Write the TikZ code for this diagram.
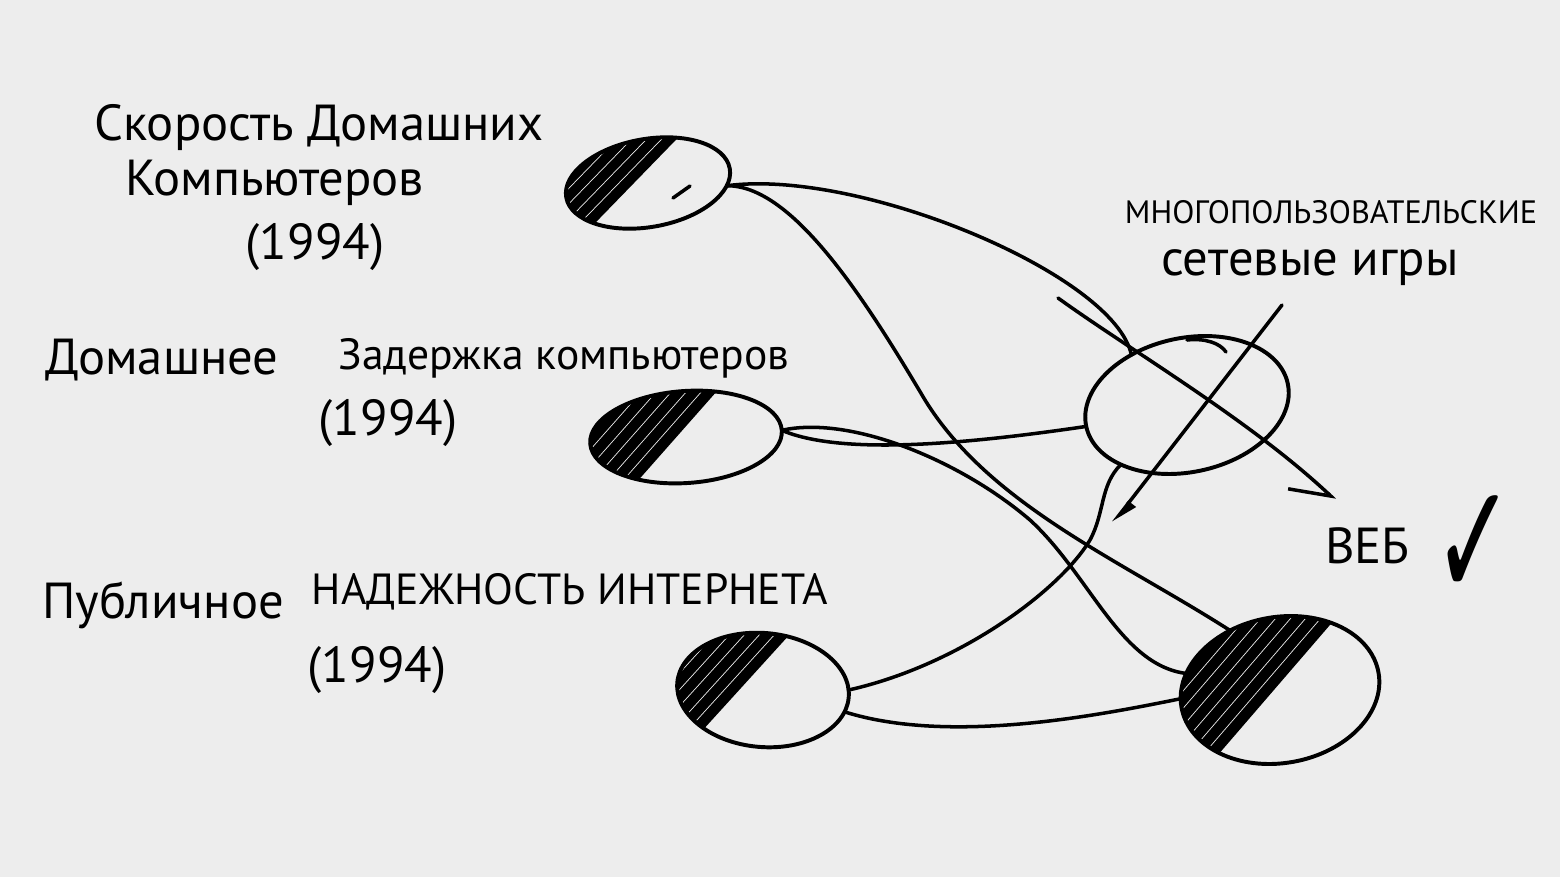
\documentclass[tikz,border=0pt]{standalone}
\usepackage{fontspec}
\setmainfont{PT Sans}
\newfontfamily\symfont{DejaVu Sans}
\usetikzlibrary{shapes.geometric,arrows.meta}
\definecolor{paper}{RGB}{237,237,237}
\tikzset{
  blob/.style={draw, ellipse, line width=2.8pt, inner sep=0pt, outer sep=0pt},
  link/.style={line width=2.5pt, line cap=round},
  big/.style={font=\fontsize{36}{40}\selectfont, inner sep=0pt},
  mid/.style={font=\fontsize{31}{34}\selectfont, inner sep=0pt},
  sml/.style={font=\fontsize{23}{26}\selectfont, inner sep=0pt},
}
\begin{document}
\begin{tikzpicture}[x=0.025cm, y=-0.025cm, line join=round, line cap=round]
	\useasboundingbox (0,0) rectangle (1560,877);
	\fill[paper] (0,0) rectangle (1560,877);
	% shaded halves
	\foreach \cx/\cy/\rx/\ry/\rt/\ax/\ay/\bx/\by in {648/183/83/44/10/702/113/566/253, 686/437/96/46/4/755/348/597/527, 763/690/86/57/-5/821/600/671/765, 1280/690/100/73/10/1373/575/1192/785}{
		\begin{scope}
			\clip[rotate around={\rt:(\cx,\cy)}] (\cx,\cy) ellipse ({\rx} and {\ry});
			\fill (\ax,\ay) -- (\bx,\by) -- (\bx-200,\by) -- (\ax-200,\ay) -- cycle;
			\foreach \k in {1,...,7} \draw[paper, line width=0.5pt] (\ax-15*\k,\ay) -- (\bx-15*\k,\by);
		\end{scope}}
	% blobs
	\node[blob, minimum width=4.15cm, minimum height=2.2cm, rotate=10] (spd) at (648,183) {};
	\node[blob, minimum width=4.8cm, minimum height=2.3cm, rotate=4] (lat) at (686,437) {};
	\node[blob, minimum width=4.3cm, minimum height=2.85cm, rotate=-5] (rel) at (763,690) {};
	\node[blob, minimum width=5.15cm, minimum height=3.35cm, rotate=12] (mpg) at (1187,405) {};
	\node[blob, minimum width=5cm, minimum height=3.65cm, rotate=10] (web) at (1280,690) {};
	\draw[link] (673,198) -- (690,186);
	\draw[link] (1187,340) .. controls (1205,338) and (1220,343) .. (1226,352);
	% labels
	\node[big] (spdA) at (319,128) {Скорость Домашних};
	\node[big] (spdB) at (275,183) {Компьютеров};
	\node[big] (spdC) at (315,247) {(1994)};
	\node[big] (latA) at (162,360) {Домашнее};
	\node[mid] (latB) at (564,358) {Задержка компьютеров};
	\node[big] (latC) at (388,423) {(1994)};
	\node[big] (relA) at (163,605) {Публичное};
	\node[mid] (relB) at (570,592) {НАДЕЖНОСТЬ ИНТЕРНЕТА};
	\node[big] (relC) at (377,670) {(1994)};
	\node[sml] (mpgA) at (1331,212) {МНОГОПОЛЬЗОВАТЕЛЬСКИЕ};
	\node[big] (mpgB) at (1310,268) {сетевые игры};
	\node[big, anchor=base west] (webL) at (1325,563) {ВЕБ\hspace{0.6cm}{\symfont\fontsize{115}{115}\selectfont\raisebox{-0.85cm}{\scalebox{0.6}[1]{✓}}}};
	% links
	\draw[link] (spd.-12) .. controls (860,168) and (1115,275) .. (mpg.126);
	\draw[link] (spd.-12) .. controls (790,185) and (860,290) .. (925,400) .. controls (990,505) and (1120,560) .. (web.120);
	\draw[link] (lat.east) .. controls (840,455) and (960,445) .. (mpg.west);
	\draw[link] (lat.east) .. controls (850,415) and (960,460) .. (1030,520) .. controls (1090,575) and (1120,665) .. (web.160);
	\draw[link] (rel.5) .. controls (960,665) and (1060,590) .. (1090,540) .. controls (1105,512) and (1100,485) .. (mpg.-150);
	\draw[link] (rel.-10) .. controls (950,745) and (1100,715) .. (web.175);
	% arrows
	\coordinate (gstart) at (1058,298);
	\coordinate (webtip) at (1335,500);
	\coordinate (gtop) at (1282,305);
	\coordinate (gtip) at (1113,523);
	\draw[link, -{Straight Barb[harpoon, swap, length=0.9cm, width=1.2cm]}] (gstart) .. controls (1130,350) and (1250,420) .. (webtip);
	\draw[link, -{Triangle[harpoon, length=0.55cm, width=0.4cm]}] (gtop) -- (gtip);
\end{tikzpicture}
\end{document}
